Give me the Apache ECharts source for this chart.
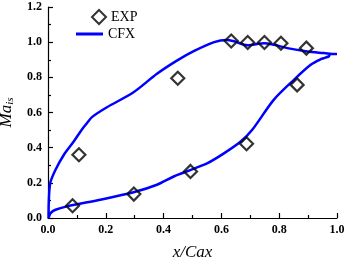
<!DOCTYPE html>
<html>
<head>
<meta charset="utf-8">
<script src="https://cdn.jsdelivr.net/npm/echarts@6/dist/echarts.min.js"></script>
<style>
  html, body { margin: 0; padding: 0; background: #fff; }
  #chart { width: 348px; height: 263px; }
</style>
</head>
<body>
<div id="chart"></div>
<script>
// experiment points
const expX = [0.085, 0.107, 0.297, 0.449, 0.493, 0.634, 0.687, 0.691, 0.749, 0.806, 0.862, 0.894];
const expY = [0.070, 0.360, 0.136, 0.795, 0.265, 1.007, 0.422, 0.998, 0.998, 0.994, 0.757, 0.966];

// CFX curve, one closed loop: pressure side from trailing edge to leading edge, then suction side back
const cfxX = [0.975, 0.972, 0.960, 0.944, 0.909, 0.851, 0.781, 0.706, 0.667, 0.610, 0.552, 0.494, 0.435, 0.377, 0.296, 0.181, 0.066, 0.026, 0.009, 0.003,
  0.002, 0.003, 0.008, 0.026, 0.055, 0.089, 0.118, 0.135, 0.153, 0.204, 0.296, 0.377, 0.446, 0.506, 0.575, 0.616, 0.644, 0.690, 0.748, 0.782, 0.828, 0.897, 0.955, 0.995, 1.0];
const cfxY = [0.935, 0.920, 0.912, 0.903, 0.871, 0.786, 0.672, 0.500, 0.435, 0.369, 0.312, 0.274, 0.236, 0.189, 0.146, 0.104, 0.066, 0.047, 0.028, 0.005,
  0.0, 0.104, 0.200, 0.274, 0.360, 0.435, 0.505, 0.540, 0.575, 0.630, 0.715, 0.820, 0.895, 0.950, 1.000, 1.013, 1.005, 0.982, 0.994, 0.985, 0.966, 0.947, 0.938, 0.932, 0.932];

const xTicks = ['0.0', '0.2', '0.4', '0.6', '0.8', '1.0'];
const yTicks = ['0.0', '0.2', '0.4', '0.6', '0.8', '1.0', '1.2'];

const font = 'Liberation Serif';
const chart = echarts.init(document.getElementById('chart'));

const axisCommon = {
  type: 'value',
  axisLine: { show: true, lineStyle: { color: '#000', width: 1.2 } },
  axisTick: { show: true, inside: true, length: 5, lineStyle: { color: '#000', width: 1.2 } },
  minorTick: { show: true, splitNumber: 2, length: 3, lineStyle: { color: '#000', width: 1.2 } },
  splitLine: { show: false },
  axisLabel: { color: '#000', fontFamily: font, fontSize: 12, fontWeight: 'bold' }
};

chart.setOption({
  animation: false,
  grid: { left: 48, right: 11, top: 7, bottom: 45, containLabel: false, outerBoundsMode: 'none' },
  legend: [
    {
      data: ['EXP'], left: 91, top: 9, padding: 0,
      itemWidth: 14, itemHeight: 14,
      textStyle: { color: '#000', fontFamily: font, fontSize: 14 }
    },
    {
      data: [{ name: 'CFX', icon: 'rect' }], left: 76, top: 27, padding: 0,
      itemWidth: 27, itemHeight: 3,
      textStyle: { color: '#000', fontFamily: font, fontSize: 14 }
    }
  ],
  xAxis: Object.assign({}, axisCommon, {
    min: 0, max: 1, interval: 0.2,
    axisLabel: Object.assign({}, axisCommon.axisLabel, {
      margin: 6,
      formatter: v => xTicks[Math.round(v / 0.2)]
    }),
    name: 'x/Cax', nameLocation: 'middle', nameGap: 26,
    nameTextStyle: { color: '#000', fontFamily: font, fontSize: 17, fontStyle: 'italic' }
  }),
  yAxis: Object.assign({}, axisCommon, {
    min: 0, max: 1.2, interval: 0.2,
    axisLabel: Object.assign({}, axisCommon.axisLabel, {
      margin: 6,
      formatter: v => yTicks[Math.round(v / 0.2)]
    }),
    name: '{a|Ma}{b|is}', nameLocation: 'middle', nameGap: 22,
    nameTextStyle: {
      rich: {
        a: { color: '#000', fontFamily: font, fontSize: 17, fontStyle: 'italic', lineHeight: 20 },
        b: { color: '#000', fontFamily: font, fontSize: 11, fontStyle: 'italic', lineHeight: 12, verticalAlign: 'bottom' }
      }
    }
  }),
  series: [
    {
      name: 'CFX',
      type: 'line',
      data: cfxX.map((x, i) => [x, cfxY[i]]),
      symbol: 'none',
      smooth: 0.3,
      lineStyle: { color: '#0000ff', width: 2.5 },
      itemStyle: { color: '#0000ff' },
      z: 2
    },
    {
      name: 'EXP',
      type: 'scatter',
      data: expX.map((x, i) => [x, expY[i]]),
      symbol: 'diamond',
      symbolSize: 13,
      itemStyle: { color: 'rgba(0,0,0,0)', borderColor: '#000', borderWidth: 2.2 },
      z: 3
    }
  ]
});
</script>
</body>
</html>
